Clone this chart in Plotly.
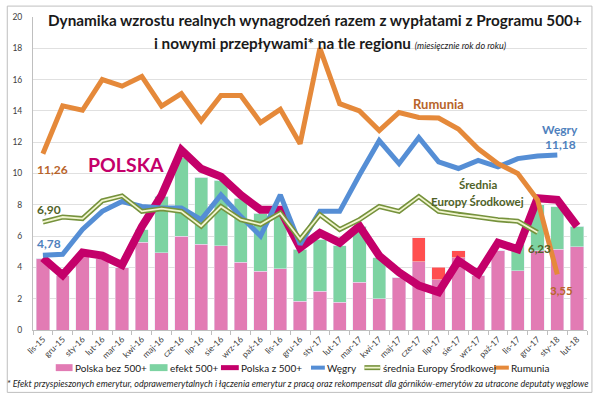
import plotly.graph_objects as go

categories = ["lis-15","gru-15","sty-16","lut-16","mar-16","kwi-16","maj-16","cze-16","lip-16","sie-16",
              "wrz-16","paź-16","lis-16","gru-16","sty-17","lut-17","mar-17","kwi-17","maj-17","cze-17",
              "lip-17","sie-17","wrz-17","paź-17","lis-17","gru-17","sty-18","lut-18"]

polska_bez_500 = [4.6, 3.5, 4.7, 4.6, 4.0, 5.62, 4.95, 6.0, 5.47, 5.37,
                  4.32, 3.75, 3.9, 1.83, 2.48, 1.77, 3.05, 2.0, 3.37, 4.36,
                  3.2, 4.63, 3.5, 5.05, 3.79, 5.05, 5.16, 5.33]
efekt_500 = [0, 0, 0, 0, 0, 0.8, 3.6, 5.0, 4.3, 4.2,
             4.1, 3.72, 3.89, 3.33, 3.31, 3.6, 3.58, 2.63, 0, 0,
             0, 0, 0, 0, 1.68, 2.95, 2.73, 1.3]
efekt_emerytur = [0, 0, 0, 0, 0, 0, 0, 0, 0, 0,
                  0, 0, 0, 0, 0, 0, 0, 0, 0, 1.53,
                  0.8, 0.42, 0, 0, 0, 0, 0, 0]
polska_z_500 = [4.6, 3.5, 4.95, 4.75, 4.15, 6.6, 8.6, 11.5, 10.3, 9.8,
                8.63, 7.68, 7.68, 5.26, 6.2, 5.58, 6.63, 4.74, 3.68, 2.84,
                2.42, 4.42, 3.58, 5.58, 5.16, 8.42, 8.32, 6.63]
wegry = [4.78, 4.84, 6.42, 7.58, 8.21, 7.89, 7.79, 7.79, 7.05, 8.63,
         7.26, 6.0, 8.63, 5.47, 7.58, 7.58, 9.9, 12.1, 10.63, 12.3,
         10.74, 10.32, 10.84, 10.42, 10.95, 11.12, 11.18, None]
srednia = [6.90, 7.22, 7.12, 8.25, 8.57, 7.58, 7.75, 7.58, 6.63, 7.89,
           7.05, 6.74, 7.47, 5.79, 7.37, 6.42, 7.05, 7.89, 7.58, 8.53,
           7.58, 7.37, 7.22, 7.05, 6.95, 6.23, None, None]
rumunia = [11.26, 14.32, 14.04, 16.0, 15.58, 16.2, 14.3, 15.1, 13.37, 14.99,
           14.99, 13.26, 14.1, 11.9, 18.0, 14.46, 14.0, 12.74, 13.9, 13.58,
           13.54, 12.84, 11.58, 10.63, 10.0, 8.32, 3.55, None]

y_ticks = [0, 2, 4, 6, 8, 10, 12, 14, 16, 18, 20]

legend_names = ["Polska bez 500+", "efekt 500+", "Polska z 500+", "Węgry",
                "średnia Europy Środkowej", "Rumunia"]

PINK = "#e27bb4"
GREEN = "#7dd3a2"
RED = "#ff4f4f"
MAGENTA = "#c4006a"
BLUE = "#558ed5"
ORANGE = "#e5893a"
OLIVE = "#76923c"
OLIVE_IN = "#f1f5cf"
T_ORANGE = "#b8642a"
T_OLIVE = "#4f6228"
T_BLUE = "#4f81bd"

FONT = "Lato"

fig = go.Figure()
fig.add_trace(go.Bar(x=categories, y=polska_bez_500, name=legend_names[0], marker_color=PINK))
fig.add_trace(go.Bar(x=categories, y=efekt_500, name=legend_names[1], marker_color=GREEN))
fig.add_trace(go.Bar(x=categories, y=efekt_emerytur, name="efekt emerytur*", marker_color=RED))
fig.add_trace(go.Scatter(x=categories, y=polska_z_500, name=legend_names[2], mode="lines",
                         line=dict(color=MAGENTA, width=8)))
fig.add_trace(go.Scatter(x=categories, y=wegry, name=legend_names[3], mode="lines",
                         line=dict(color=BLUE, width=5)))
fig.add_trace(go.Scatter(x=categories, y=srednia, name=legend_names[4], mode="lines",
                         line=dict(color=OLIVE, width=5)))
fig.add_trace(go.Scatter(x=categories, y=srednia, name="średnia (środek)", mode="lines",
                         line=dict(color=OLIVE_IN, width=1.8), hoverinfo="skip"))
fig.add_trace(go.Scatter(x=categories, y=rumunia, name=legend_names[5], mode="lines",
                         line=dict(color=ORANGE, width=5)))

L, R, T, B = 27, 13, 14, 65
W, H = 600, 395
PW, PH = W - L - R, H - T - B


def px(x):
    return (x - L) / PW


def py(y):
    return (H - B - y) / PH


def ann(text, x, y, size, color, bold=True, italic=False, xanchor="center"):
    t = text
    if bold:
        t = "<b>" + t + "</b>"
    if italic:
        t = "<i>" + t + "</i>"
    fig.add_annotation(text=t, x=px(x), y=py(y), xref="paper", yref="paper", showarrow=False,
                       xanchor=xanchor, yanchor="middle", font=dict(family=FONT, size=size, color=color))


# title
fig.add_annotation(text="<b>Dynamika wzrostu realnych wynagrodzeń razem z wypłatami z Programu 500+</b>",
                   x=px(312), y=py(17), xref="paper", yref="paper", showarrow=False, xanchor="center",
                   yanchor="middle", font=dict(family=FONT, size=15.3, color="#1a1a1a"),
                   bgcolor="white", borderpad=1)
fig.add_annotation(text="<b>i nowymi przepływami* na tle regionu</b> <i><span style='font-size:9px'>(miesięcznie rok do roku)</span></i>",
                   x=px(327), y=py(40), xref="paper", yref="paper", showarrow=False, xanchor="center",
                   yanchor="middle", font=dict(family=FONT, size=15.3, color="#1a1a1a"))

ann("11,26", 47, 168, 12, T_ORANGE)
ann("POLSKA", 121, 163, 19.5, MAGENTA)
ann("6,90", 43, 208, 12, T_OLIVE)
ann("4,78", 43, 243, 12, T_BLUE)
ann("Rumunia", 437, 102, 13, T_ORANGE)
ann("Węgry", 560, 127.5, 12, T_BLUE)
ann("11,18", 560, 143, 12, T_BLUE)
ann("Średnia", 477, 183, 11.5, T_OLIVE)
ann("Europy Środkowej", 476, 200, 11.5, T_OLIVE)
ann("6,23", 539, 248, 11.5, T_OLIVE)
ann("3,55", 561, 290, 11.5, T_ORANGE)

fig.add_annotation(text="<i>* Efekt przyspieszonych emerytur, odprawemerytalnych i łączenia emerytur z pracą oraz rekompensat dla górników-emerytów za utracone deputaty węglowe</i>",
                   x=px(295), y=py(384), xref="paper", yref="paper", showarrow=False, xanchor="center",
                   yanchor="middle", font=dict(family=FONT, size=9.0, color="#262626"))

# manual legend (swatches + labels)
LEG_Y = 368
leg_items = [
    ("bar", PINK, 50, 67, legend_names[0]),
    ("bar", GREEN, 145, 163, legend_names[1]),
    ("line", MAGENTA, 217, 235, legend_names[2]),
    ("line", BLUE, 308, 322, legend_names[3]),
    ("dline", OLIVE, 362, 378, legend_names[4]),
    ("line", ORANGE, 493, 508, legend_names[5]),
]
for kind, col, x0, x1, name in leg_items:
    if kind == "bar":
        fig.add_shape(type="rect", xref="paper", yref="paper", x0=px(x0), x1=px(x1),
                      y0=py(LEG_Y + 3.5), y1=py(LEG_Y - 3.5), line=dict(width=0), fillcolor=col)
    elif kind == "line":
        fig.add_shape(type="line", xref="paper", yref="paper", x0=px(x0), x1=px(x1),
                      y0=py(LEG_Y), y1=py(LEG_Y), line=dict(color=col, width=4 if col != MAGENTA else 5))
    else:
        fig.add_shape(type="line", xref="paper", yref="paper", x0=px(x0), x1=px(x1),
                      y0=py(LEG_Y), y1=py(LEG_Y), line=dict(color=OLIVE, width=5))
        fig.add_shape(type="line", xref="paper", yref="paper", x0=px(x0), x1=px(x1),
                      y0=py(LEG_Y), y1=py(LEG_Y), line=dict(color=OLIVE_IN, width=1.8))
    fig.add_annotation(text=name, x=px(x1 + 0.5), y=py(LEG_Y), xref="paper", yref="paper",
                       showarrow=False, xanchor="left", yanchor="middle",
                       font=dict(family=FONT, size=10, color="#1a1a1a"))

# outer frame
fig.add_shape(type="rect", xref="paper", yref="paper", x0=px(1), x1=px(592), y0=py(393), y1=py(3),
              line=dict(color="#bfbfbf", width=1), layer="below")

fig.update_layout(
    width=W, height=H,
    margin=dict(l=L, r=R, t=T, b=B, pad=0),
    paper_bgcolor="white", plot_bgcolor="white",
    barmode="stack", bargap=0.33,
    font=dict(family=FONT, color="#404040"),
    showlegend=False,
)
fig.update_xaxes(type="category", tickangle=-45, tickfont=dict(size=8.5, color="#404040"),
                 showline=True, linecolor="#bfbfbf", linewidth=1, ticks="outside", tickson="boundaries",
                 ticklen=4, tickcolor="#bfbfbf", showgrid=False)
fig.update_yaxes(range=[0, 20], tickvals=y_ticks, tickfont=dict(size=8.5, color="#404040"),
                 showgrid=True, gridcolor="#e0e0e0", gridwidth=1, showline=True, linecolor="#bfbfbf",
                 ticks="", ticklabelstandoff=8, zeroline=False)

fig.write_html("out.html", config={"displayModeBar": False},
               post_script="document.body.style.margin='0';document.body.style.overflow='hidden';")
